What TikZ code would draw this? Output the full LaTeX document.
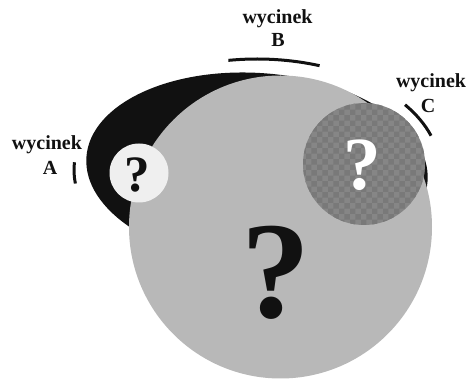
\documentclass[tikz,border=0pt]{standalone}
\usepackage{fontspec}
\setmainfont{Liberation Serif}
\usetikzlibrary{patterns}
\definecolor{biggray}{HTML}{B8B8B8}
\definecolor{lightdisc}{HTML}{EFEFEF}
\definecolor{darkdisc}{HTML}{868686}
\definecolor{checkcol}{HTML}{797979}
\definecolor{inkc}{HTML}{111111}
\tikzset{
  lbl/.style={font=\bfseries\fontsize{20}{24}\selectfont, text=inkc, inner sep=0pt, anchor=base},
  qmark/.style={font=\bfseries, inner sep=0pt, anchor=base},
  cutarc/.style={draw=inkc, line width=3pt}
}
\begin{document}
\begin{tikzpicture}[x=1pt,y=1pt]
\useasboundingbox (0,0) rectangle (467,383);
% black ellipse behind
\fill[inkc, rotate around={-4:(257,214)}] (257,214) ellipse[x radius=171, y radius=96];
% big gray circle
\fill[biggray] (280.5,156) circle[radius=151.5];
% small light circle
\fill[lightdisc] (139,210) circle[radius=29.5];
% textured circle
\fill[darkdisc] (364,219) circle[radius=61];
\fill[pattern=checkerboard, pattern color=checkcol] (364,219) circle[radius=61];
% question marks
\node[qmark, font=\bfseries\fontsize{138}{140}\selectfont, text=inkc] (qbig) at (276,65) {?};
\node[qmark, font=\bfseries\fontsize{51}{55}\selectfont, text=inkc] (qa) at (137.5,191) {?};
\node[qmark, font=\bfseries\fontsize{75}{80}\selectfont, text=white] (qc) at (362,193) {?};
% arcs (wycinki)
\draw[cutarc] (257,213) ++(176:183 and 111) arc[start angle=176, end angle=187, x radius=183, y radius=111];
\draw[cutarc] (257,213) ++(99:183 and 111) arc[start angle=99, end angle=70, x radius=183, y radius=111];
\draw[cutarc] (257,213) ++(36:183 and 111) arc[start angle=36, end angle=18, x radius=183, y radius=111];
% labels
\node[lbl] (la1) at (47,233) {wycinek};
\node[lbl] (la2) at (50,208) {A};
\node[lbl] (lb1) at (277.5,359) {wycinek};
\node[lbl] (lb2) at (278,336) {B};
\node[lbl] (lc1) at (431,295) {wycinek};
\node[lbl] (lc2) at (428,270) {C};
\end{tikzpicture}
\end{document}
